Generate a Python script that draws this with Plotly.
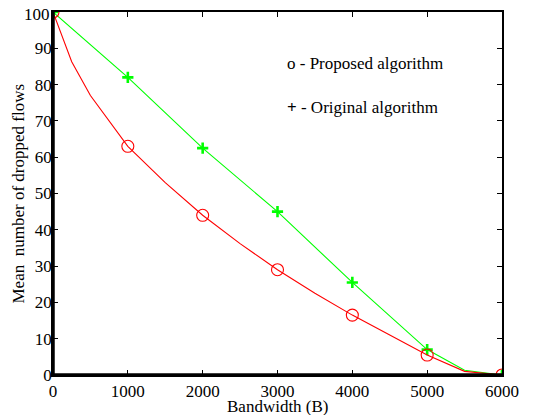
import plotly.graph_objects as go

# Data
bw_red_line = [0, 250, 500, 750, 1000, 1500, 2000, 2500, 3000, 3500, 4000, 4500, 5000, 5500, 6000]
drop_red_line = [100, 86.3, 77, 70, 63, 53, 44, 36.2, 29, 22.5, 16.5, 11, 5.5, 1.0, 0]
bw_markers = [0, 1000, 2000, 3000, 4000, 5000, 6000]
drop_proposed = [100, 63, 44, 29, 16.5, 5.5, 0]
bw_green_line = [0, 1000, 2000, 3000, 4000, 5000, 5500, 6000]
drop_green_line = [100, 82, 62.5, 45, 25.5, 7, 1.3, 0]
drop_original = [100, 82, 62.5, 45, 25.5, 7, 0]
x_ticks = [0, 1000, 2000, 3000, 4000, 5000, 6000]
y_ticks = [0, 10, 20, 30, 40, 50, 60, 70, 80, 90, 100]

RED = "#ff0000"
GREEN = "#00ff00"
FONT = "Liberation Serif"
FS = 17

fig = go.Figure()
fig.add_trace(go.Scatter(x=bw_green_line, y=drop_green_line, mode="lines",
                         line=dict(color=GREEN, width=1.1), showlegend=False, hoverinfo="skip"))
fig.add_trace(go.Scatter(x=bw_markers, y=drop_original, mode="markers",
                         marker=dict(symbol="cross-thin", size=8, line=dict(color=GREEN, width=2.6)),
                         showlegend=False))
fig.add_trace(go.Scatter(x=bw_red_line, y=drop_red_line, mode="lines",
                         line=dict(color=RED, width=1.1), showlegend=False, hoverinfo="skip"))
fig.add_trace(go.Scatter(x=bw_markers, y=drop_proposed, mode="markers",
                         marker=dict(symbol="circle-open", size=12, color=RED, line=dict(color=RED, width=1.1)),
                         showlegend=False))

axis_common = dict(showgrid=False, zeroline=False, showline=True, linecolor="black", linewidth=1.5,
                   mirror="ticks", ticks="inside", ticklen=5, tickwidth=1.2, tickcolor="black",
                   automargin=False, ticklabeloverflow="allow",
                   tickfont=dict(family=FONT, size=FS, color="black"))

# the top y label is drawn as an annotation so it is not clipped by the page edge
y_ticktext = [str(v) if v != y_ticks[-1] else "" for v in y_ticks]

fig.update_xaxes(range=[0, 6000], tickvals=x_ticks, ticktext=[str(v) for v in x_ticks],
                 ticklabelstandoff=0, **axis_common)
fig.update_yaxes(range=[0, 100], tickvals=y_ticks, ticktext=y_ticktext,
                 ticklabelstandoff=-4, **axis_common)

fig.add_annotation(x=0, y=y_ticks[-1], xref="paper", yref="y", text=str(y_ticks[-1]), showarrow=False,
                   xanchor="right", yanchor="middle", xshift=-2, yshift=-2, borderpad=0,
                   font=dict(family=FONT, size=FS, color="black"))

# thicker left and bottom axis lines
fig.add_shape(type="line", xref="paper", yref="paper", x0=0, x1=0, y0=0, y1=1,
              line=dict(color="black", width=3.5))
fig.add_shape(type="line", xref="paper", yref="paper", x0=0, x1=1, y0=0, y1=0,
              line=dict(color="black", width=3.5))

# axis titles
fig.add_annotation(x=0.5, y=0, xref="paper", yref="paper", text="Bandwidth (B)", showarrow=False,
                   xanchor="center", yanchor="top", yshift=-20,
                   font=dict(family=FONT, size=FS, color="black"))
fig.add_annotation(x=0, y=0.5, xref="paper", yref="paper", text="Mean  number of dropped flows",
                   showarrow=False, textangle=-90, xanchor="center", yanchor="middle", xshift=-35,
                   font=dict(family=FONT, size=FS, color="black"))

# in-plot legend texts
fig.add_annotation(x=3100, y=85.7, xref="x", yref="y", text="o - Proposed algorithm", showarrow=False,
                   xanchor="left", yanchor="middle", font=dict(family=FONT, size=FS, color="black"))
fig.add_annotation(x=3100, y=73.8, xref="x", yref="y", text="<b>+</b> - Original algorithm", showarrow=False,
                   xanchor="left", yanchor="middle", font=dict(family=FONT, size=FS, color="black"))

# page body has an 8px margin, so the figure is sized to fit the 535x415 window
fig.update_layout(width=527, height=407, margin=dict(l=45, r=33, t=4, b=40),
                  paper_bgcolor="white", plot_bgcolor="white")

fig.write_html("out.html")
